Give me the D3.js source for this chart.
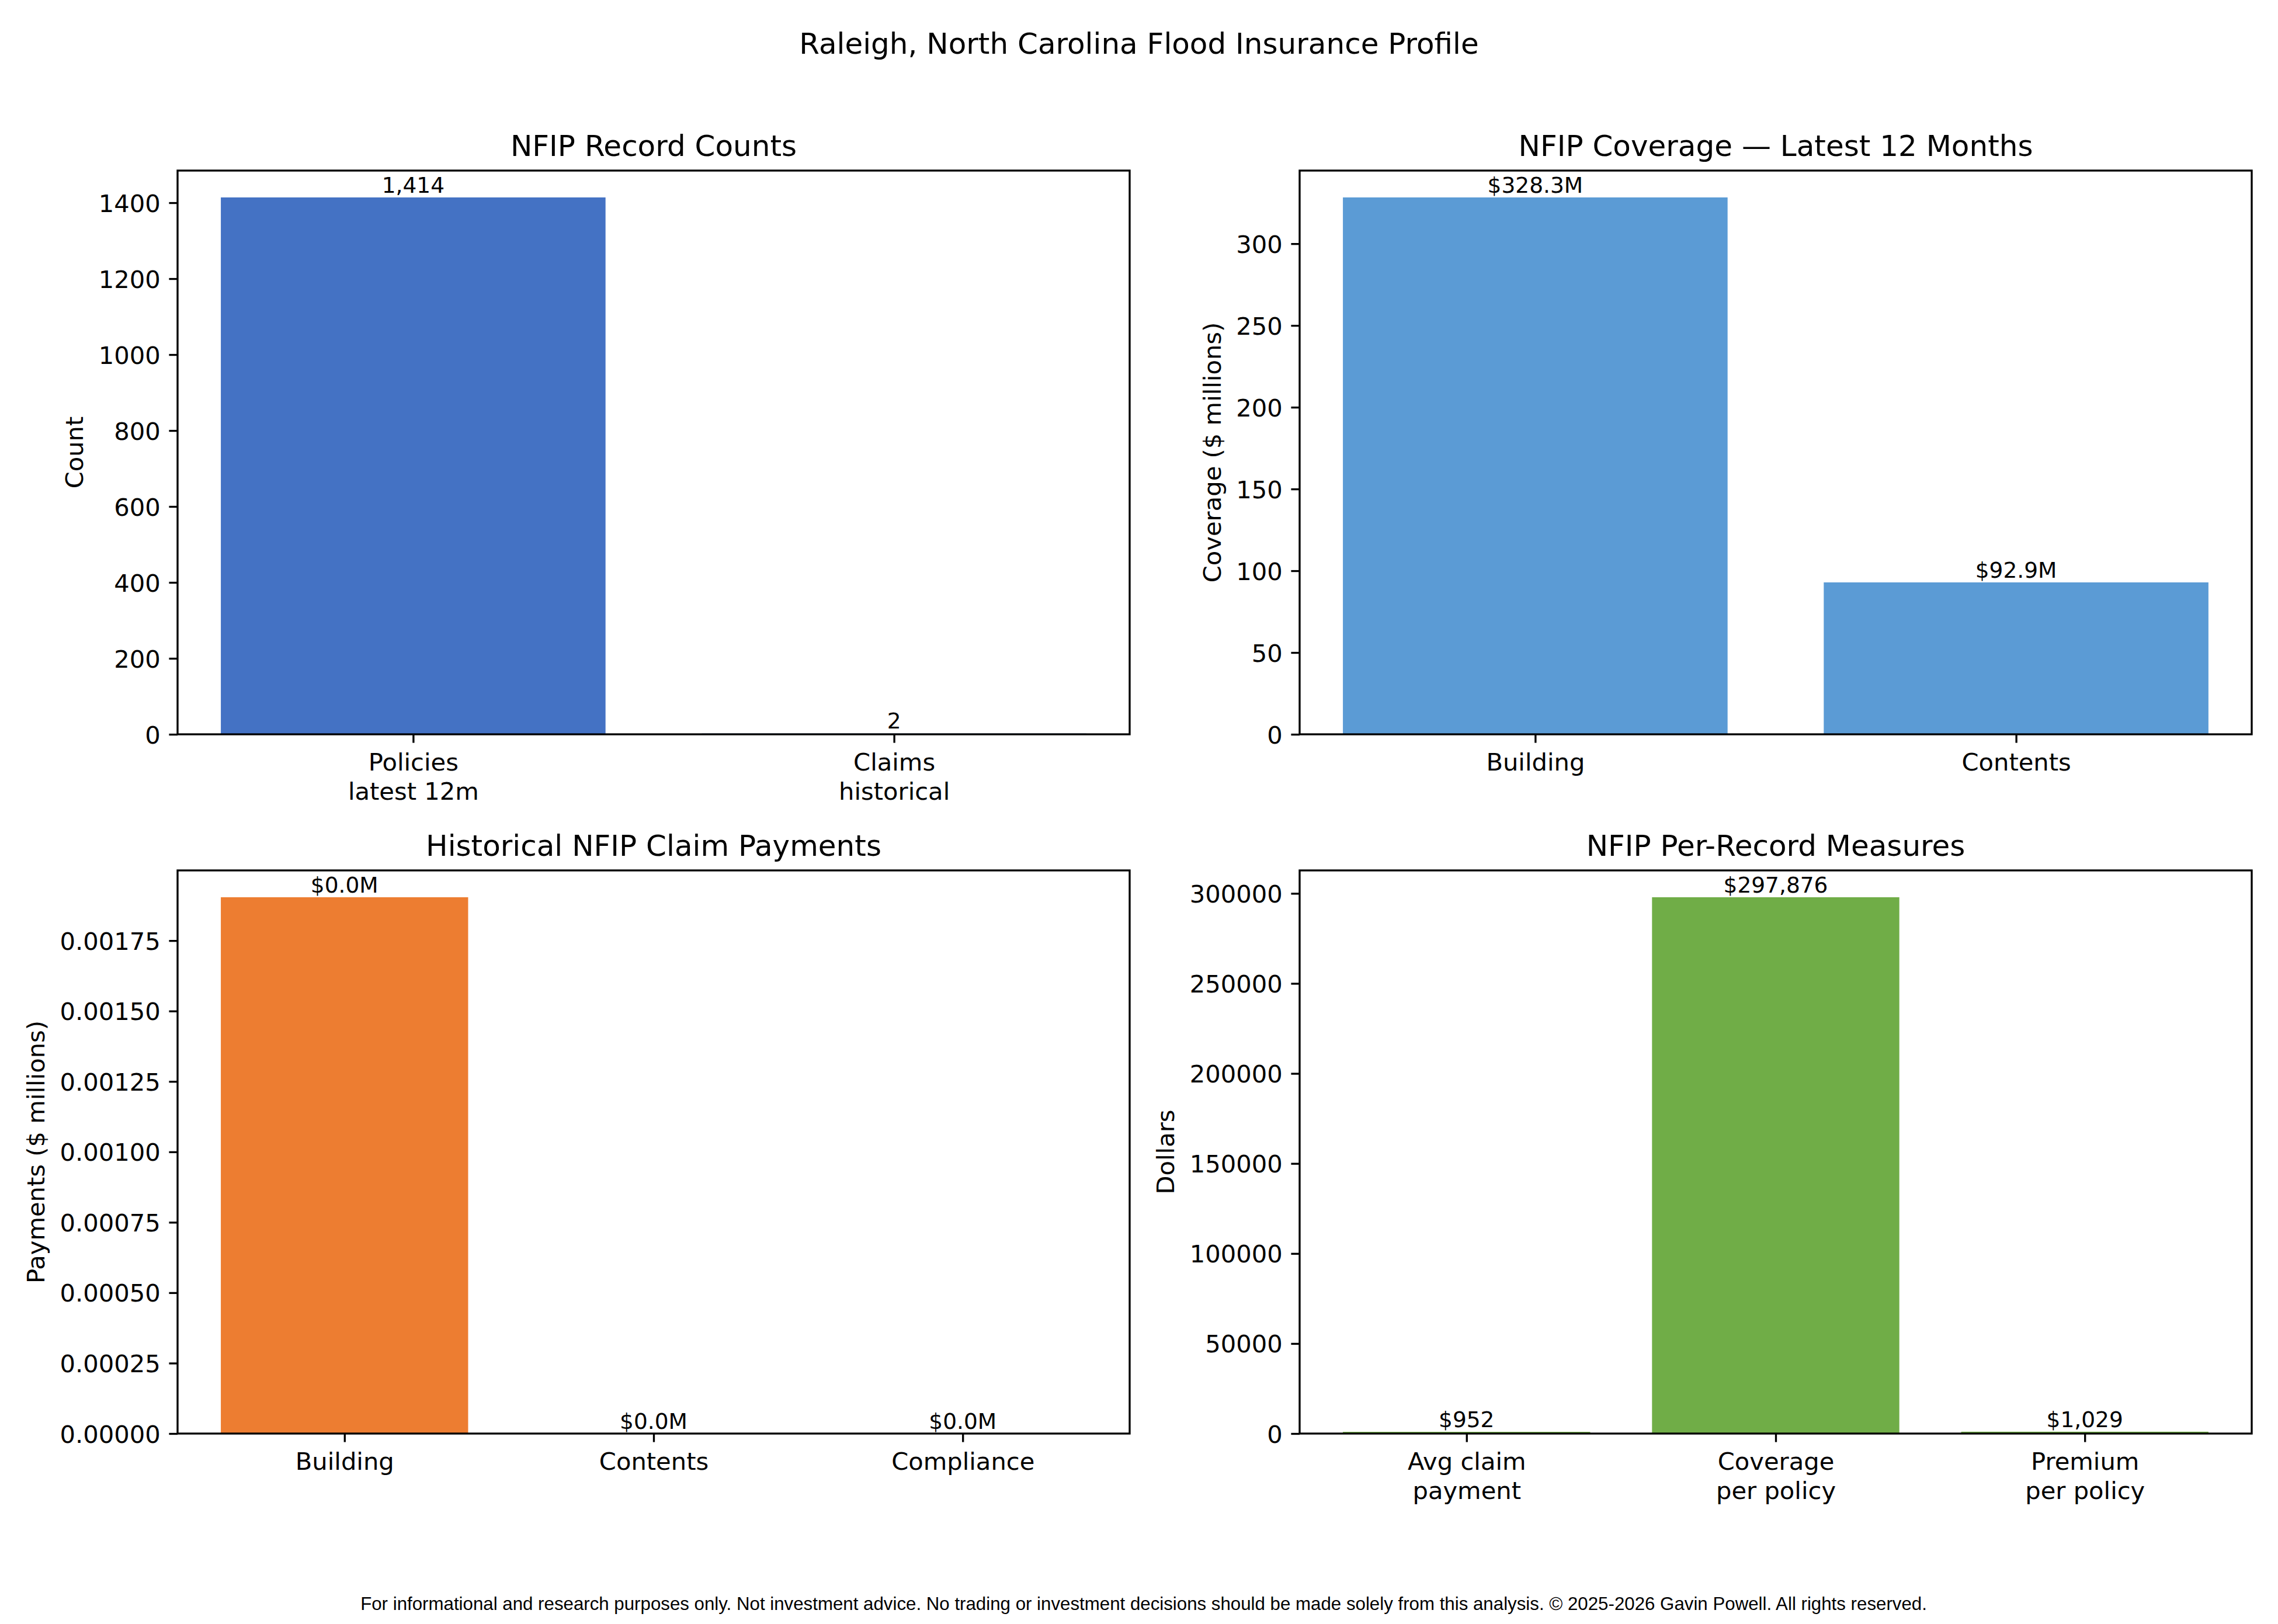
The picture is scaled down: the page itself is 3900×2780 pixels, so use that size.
<!DOCTYPE html>
<html>
<head>
<meta charset="utf-8">
<script src="https://cdn.jsdelivr.net/npm/d3@7"></script>
<style>
  html, body { margin: 0; padding: 0; background: #ffffff; }
  svg { display: block; }
</style>
</head>
<body>
<script>
// ---------------- DATA ----------------
const countCategories = ["Policies\nlatest 12m", "Claims\nhistorical"];
const countValues = [1414, 2];
const countLabels = ["1,414", "2"];
const countTicks = [0, 200, 400, 600, 800, 1000, 1200, 1400];

const coverageCategories = ["Building", "Contents"];
const coverageValues = [328.3, 92.9];
const coverageLabels = ["$328.3M", "$92.9M"];
const coverageTicks = [0, 50, 100, 150, 200, 250, 300];

const paymentCategories = ["Building", "Contents", "Compliance"];
const paymentValues = [0.001904, 0, 0];
const paymentLabels = ["$0.0M", "$0.0M", "$0.0M"];
const paymentTicks = [0, 0.00025, 0.0005, 0.00075, 0.001, 0.00125, 0.0015, 0.00175];

const measureCategories = ["Avg claim\npayment", "Coverage\nper policy", "Premium\nper policy"];
const measureValues = [952, 297876, 1029];
const measureLabels = ["$952", "$297,876", "$1,029"];
const measureTicks = [0, 50000, 100000, 150000, 200000, 250000, 300000];

const titles = ["NFIP Record Counts", "NFIP Coverage \u2014 Latest 12 Months", "Historical NFIP Claim Payments", "NFIP Per-Record Measures"];
const yLabels = ["Count", "Coverage ($ millions)", "Payments ($ millions)", "Dollars"];
const suptitle = "Raleigh, North Carolina Flood Insurance Profile";
const footer = "For informational and research purposes only. Not investment advice. No trading or investment decisions should be made solely from this analysis. \u00a9 2025-2026 Gavin Powell. All rights reserved.";

// ---------------- STYLE / LAYOUT ----------------
const W = 3900, H = 2780;
const PT = 300 / 72;
const tickFont = 10 * PT, titleFont = 12 * PT, barFont = 9 * PT, footFont = 7.5 * PT;
const lw = 0.8 * PT, tickLen = 3.5 * PT, tickPad = 3.5 * PT, labelPad = 4 * PT;
const FONT = "'DejaVu Sans', sans-serif";

const panels = [
  { cats: countCategories, vals: countValues, labels: countLabels, ticks: countTicks, fmt: d3.format("d"), color: "#4472C4", title: titles[0], ylabel: yLabels[0], x0: 304, x1: 1934, y0: 292, y1: 1257 },
  { cats: coverageCategories, vals: coverageValues, labels: coverageLabels, ticks: coverageTicks, fmt: d3.format("d"), color: "#5B9BD5", title: titles[1], ylabel: yLabels[1], x0: 2225, x1: 3855, y0: 292, y1: 1257 },
  { cats: paymentCategories, vals: paymentValues, labels: paymentLabels, ticks: paymentTicks, fmt: d3.format(".5f"), color: "#ED7D31", title: titles[2], ylabel: yLabels[2], x0: 304, x1: 1934, y0: 1490, y1: 2454 },
  { cats: measureCategories, vals: measureValues, labels: measureLabels, ticks: measureTicks, fmt: d3.format("d"), color: "#70AD47", title: titles[3], ylabel: yLabels[3], x0: 2225, x1: 3855, y0: 1490, y1: 2454 }
];

const svg = d3.select("body").append("svg").attr("width", W).attr("height", H)
  .attr("viewBox", `0 0 ${W} ${H}`);
svg.append("rect").attr("width", W).attr("height", H).attr("fill", "#fff");

svg.append("text").attr("x", W / 2).attr("y", 92).attr("text-anchor", "middle")
  .attr("font-family", FONT).attr("font-size", titleFont).attr("fill", "#000").text(suptitle);

svg.append("text").attr("x", W / 2 + 8).attr("y", 2756).attr("text-anchor", "middle")
  .attr("font-family", "'Liberation Sans', Arial, sans-serif").attr("font-size", footFont).attr("fill", "#000").text(footer);

panels.forEach(p => {
  const n = p.cats.length;
  const idx = d3.range(n);
  const bw = 0.8;
  const span = (n - 1) + bw;
  const x = d3.scaleLinear()
    .domain([-bw / 2 - 0.05 * span, (n - 1) + bw / 2 + 0.05 * span])
    .range([p.x0, p.x1]);
  const y = d3.scaleLinear().domain([0, d3.max(p.vals) * 1.05]).range([p.y1, p.y0]);

  const g = svg.append("g");

  // bars
  g.selectAll("rect.bar").data(idx).join("rect").attr("class", "bar")
    .attr("x", i => x(i - bw / 2))
    .attr("width", i => x(i + bw / 2) - x(i - bw / 2))
    .attr("y", i => y(p.vals[i]))
    .attr("height", i => y(0) - y(p.vals[i]))
    .attr("fill", p.color);

  // bar labels
  g.selectAll("text.blabel").data(idx).join("text").attr("class", "blabel")
    .attr("x", i => x(i)).attr("y", i => y(p.vals[i]) - 0.22 * barFont)
    .attr("text-anchor", "middle").attr("font-family", FONT).attr("font-size", barFont)
    .attr("fill", "#000").text(i => p.labels[i]);

  // y axis
  const ya = g.append("g").attr("transform", `translate(${p.x0},0)`)
    .call(d3.axisLeft(y).tickValues(p.ticks).tickFormat(p.fmt).tickSize(tickLen).tickPadding(tickPad));
  ya.select(".domain").remove();
  ya.selectAll(".tick line").attr("stroke", "#000").attr("stroke-width", lw);
  ya.selectAll(".tick text").attr("font-family", FONT).attr("font-size", tickFont)
    .attr("fill", "#000").attr("dy", "0.36em");

  // x axis
  const xa = g.append("g").attr("transform", `translate(0,${p.y1})`)
    .call(d3.axisBottom(x).tickValues(idx).tickFormat(i => p.cats[i]).tickSize(tickLen).tickPadding(tickPad));
  xa.select(".domain").remove();
  xa.selectAll(".tick line").attr("stroke", "#000").attr("stroke-width", lw);
  xa.selectAll(".tick text").each(function (i) {
    const t = d3.select(this);
    const lines = p.cats[i].split("\n");
    t.text(null).attr("y", null).attr("dy", null)
      .attr("font-family", FONT).attr("font-size", tickFont).attr("fill", "#000");
    lines.forEach((ln, k) => {
      t.append("tspan").attr("x", 0).attr("y", 62 + k * 1.2 * tickFont).text(ln);
    });
  });

  // frame
  g.append("rect").attr("x", p.x0).attr("y", p.y0)
    .attr("width", p.x1 - p.x0).attr("height", p.y1 - p.y0)
    .attr("fill", "none").attr("stroke", "#000").attr("stroke-width", lw);

  // title
  g.append("text").attr("x", (p.x0 + p.x1) / 2).attr("y", p.y0 - 6 * PT)
    .attr("text-anchor", "middle").attr("font-family", FONT).attr("font-size", titleFont)
    .attr("fill", "#000").text(p.title);

  // y label
  let minX = Infinity;
  ya.selectAll(".tick text").each(function () {
    const b = this.getBBox();
    minX = Math.min(minX, p.x0 + b.x);
  });
  const lx = minX - labelPad - 0.236 * tickFont;
  const cy = (p.y0 + p.y1) / 2;
  g.append("text").attr("transform", `translate(${lx},${cy}) rotate(-90)`)
    .attr("text-anchor", "middle").attr("font-family", FONT).attr("font-size", tickFont)
    .attr("fill", "#000").text(p.ylabel);
});
</script>
</body>
</html>
